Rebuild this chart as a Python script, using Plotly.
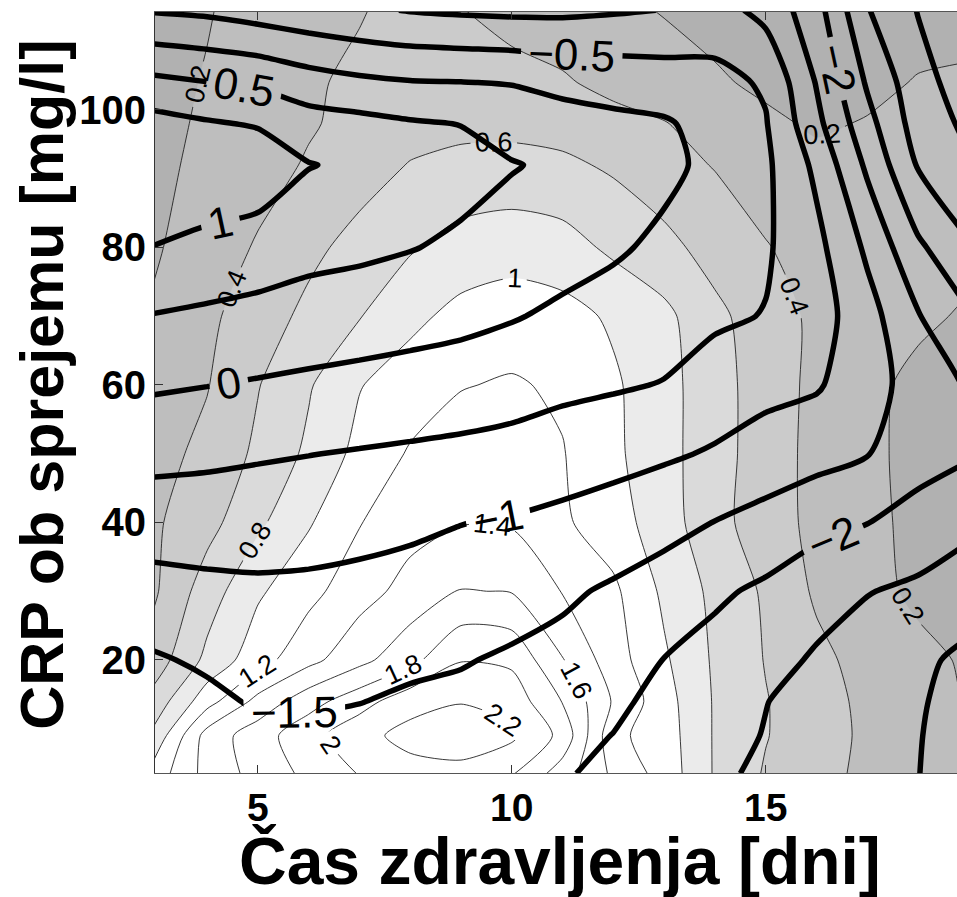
import plotly.graph_objects as go

# ---- grid (days of treatment x CRP on admission) ----
days = [2.95, 4, 5, 6, 7, 8, 9, 10, 11, 12, 13, 14, 15, 16, 17, 18, 19]
crp = [3.5, 9, 14, 20, 30, 40, 50, 60, 70, 80, 92, 98, 104, 114.5]

# ---- surface A (grey shading + thin contours), one list per CRP row ----
a_crp_3_5 = [1.08, 1.47, 1.67, 1.85, 2.01, 2.12, 2.14, 2.02, 1.70, 1.36, 1.12, 0.78, 0.58, 0.46, 0.36, 0.28, 0.25]
a_crp_9 = [0.85, 1.48, 1.71, 1.93, 2.13, 2.27, 2.31, 2.24, 1.94, 1.25, 1.10, 0.78, 0.61, 0.47, 0.37, 0.28, 0.24]
a_crp_14 = [0.67, 1.12, 1.46, 1.72, 1.92, 2.12, 2.19, 2.12, 1.79, 1.38, 1.08, 0.78, 0.61, 0.47, 0.36, 0.26, 0.19]
a_crp_20 = [0.49, 0.85, 1.12, 1.34, 1.54, 1.74, 1.99, 1.96, 1.61, 1.29, 1.03, 0.77, 0.59, 0.45, 0.33, 0.24, 0.18]
a_crp_30 = [0.37, 0.70, 0.97, 1.14, 1.32, 1.47, 1.61, 1.59, 1.39, 1.24, 0.96, 0.75, 0.57, 0.37, 0.25, 0.17, 0.14]
a_crp_40 = [0.37, 0.53, 0.76, 0.98, 1.19, 1.33, 1.39, 1.38, 1.23, 1.09, 0.89, 0.67, 0.49, 0.35, 0.24, 0.16, 0.13]
a_crp_50 = [0.33, 0.45, 0.64, 0.84, 1.06, 1.22, 1.30, 1.31, 1.21, 1.04, 0.87, 0.68, 0.50, 0.34, 0.23, 0.16, 0.12]
a_crp_60 = [0.27, 0.39, 0.59, 0.78, 0.99, 1.10, 1.19, 1.22, 1.17, 1.03, 0.87, 0.68, 0.50, 0.35, 0.24, 0.16, 0.12]
a_crp_70 = [0.22, 0.36, 0.50, 0.65, 0.79, 0.95, 1.06, 1.10, 1.07, 0.97, 0.85, 0.65, 0.49, 0.36, 0.28, 0.23, 0.18]
a_crp_80 = [0.18, 0.29, 0.42, 0.55, 0.67, 0.78, 0.88, 0.92, 0.88, 0.76, 0.66, 0.52, 0.41, 0.33, 0.28, 0.25, 0.24]
a_crp_92 = [0.17, 0.23, 0.32, 0.42, 0.51, 0.61, 0.65, 0.66, 0.64, 0.57, 0.47, 0.39, 0.31, 0.24, 0.22, 0.24, 0.25]
a_crp_98 = [0.16, 0.22, 0.29, 0.38, 0.46, 0.52, 0.55, 0.55, 0.52, 0.46, 0.41, 0.31, 0.23, 0.18, 0.21, 0.23, 0.24]
a_crp_104 = [0.15, 0.21, 0.28, 0.38, 0.43, 0.47, 0.48, 0.45, 0.42, 0.35, 0.28, 0.22, 0.17, 0.14, 0.16, 0.21, 0.22]
a_crp_114 = [0.13, 0.19, 0.26, 0.32, 0.39, 0.45, 0.405, 0.35, 0.30, 0.24, 0.19, 0.15, 0.12, 0.10, 0.10, 0.13, 0.15]

# ---- surface B (thick contours), one list per CRP row ----
b_crp_3_5 = [-1.80, -1.78, -1.72, -1.72, -1.75, -1.78, -1.82, -1.90, -1.97, -2.08, -2.24, -2.40, -2.60, -2.71, -2.85, -2.99, -3.28]
b_crp_9 = [-1.72, -1.70, -1.60, -1.60, -1.62, -1.66, -1.70, -1.80, -1.85, -2.01, -2.18, -2.35, -2.52, -2.67, -2.82, -2.98, -3.20]
b_crp_14 = [-1.65, -1.60, -1.45, -1.45, -1.49, -1.56, -1.60, -1.70, -1.75, -1.90, -2.14, -2.27, -2.49, -2.64, -2.80, -2.95, -3.20]
b_crp_20 = [-1.55, -1.43, -1.34, -1.32, -1.36, -1.42, -1.47, -1.56, -1.63, -1.77, -2.01, -2.17, -2.33, -2.56, -2.74, -2.90, -3.12]
b_crp_30 = [-1.17, -1.11, -1.08, -1.09, -1.13, -1.18, -1.23, -1.30, -1.43, -1.56, -1.70, -1.92, -2.09, -2.30, -2.48, -2.60, -2.75]
b_crp_40 = [-0.77, -0.77, -0.78, -0.81, -0.85, -0.91, -0.99, -1.04, -1.12, -1.23, -1.36, -1.51, -1.66, -1.86, -1.99, -2.17, -2.40]
b_crp_50 = [-0.36, -0.40, -0.45, -0.49, -0.53, -0.57, -0.61, -0.66, -0.75, -0.83, -0.93, -1.05, -1.21, -1.33, -1.48, -1.82, -1.95]
b_crp_60 = [0.06, 0.01, -0.04, -0.09, -0.13, -0.18, -0.23, -0.30, -0.39, -0.45, -0.52, -0.72, -0.86, -0.95, -1.29, -1.72, -2.05]
b_crp_70 = [0.48, 0.41, 0.35, 0.29, 0.23, 0.18, 0.12, 0.03, -0.08, -0.18, -0.30, -0.42, -0.52, -0.78, -1.31, -1.97, -2.45]
b_crp_80 = [0.99, 0.89, 0.78, 0.65, 0.60, 0.52, 0.42, 0.27, 0.17, 0.06, -0.09, -0.28, -0.44, -0.86, -1.59, -2.41, -2.95]
b_crp_92 = [1.40, 1.30, 1.30, 1.02, 0.91, 0.79, 0.66, 0.53, 0.40, 0.25, 0.10, -0.11, -0.41, -1.11, -2.09, -3.04, -3.45]
b_crp_98 = [1.18, 1.05, 0.96, 0.72, 0.65, 0.55, 0.49, 0.28, 0.18, 0.10, 0.05, -0.16, -0.47, -1.37, -2.33, -3.23, -3.60]
b_crp_104 = [0.62, 0.51, 0.42, 0.22, 0.10, 0.03, 0.01, -0.02, -0.12, -0.17, -0.24, -0.35, -0.56, -1.53, -2.56, -3.32, -3.75]
b_crp_114 = [-0.54, -0.60, -0.72, -0.83, -0.93, -1.02, -1.07, -1.10, -1.10, -1.05, -0.99, -0.80, -1.15, -1.81, -2.97, -3.52, -3.85]

a_rows = [a_crp_3_5, a_crp_9, a_crp_14, a_crp_20, a_crp_30, a_crp_40, a_crp_50,
          a_crp_60, a_crp_70, a_crp_80, a_crp_92, a_crp_98, a_crp_104, a_crp_114]
b_rows = [b_crp_3_5, b_crp_9, b_crp_14, b_crp_20, b_crp_30, b_crp_40, b_crp_50,
          b_crp_60, b_crp_70, b_crp_80, b_crp_92, b_crp_98, b_crp_104, b_crp_114]

x_ticks = [5, 10, 15]
y_ticks = [20, 40, 60, 80, 100]
x_title = "Čas zdravljenja [dni]"
y_title = "CRP ob sprejemu [mg/l]"

# grey bands: below 0.2, 0.2-0.4, 0.4-0.6, 0.6-0.8, 0.8-1.0, above 1.0
band_greys = ["#b1b1b1", "#bebebe", "#cbcbcb", "#dadada", "#ebebeb", "#ffffff"]
n = len(band_greys) - 1
scale = []
for j, c in enumerate(band_greys):
    lo = max(0.0, (j - 0.5) / n)
    hi = min(1.0, (j + 0.5) / n)
    scale.append([lo, c])
    scale.append([hi, c])

FONT = "Liberation Sans, Arial, sans-serif"

fig = go.Figure()
fig.add_trace(go.Contour(
    x=days, y=crp, z=a_rows,
    contours=dict(start=0.2, end=1.0, size=0.2, coloring="fill", showlines=False),
    colorscale=scale, showscale=False, line=dict(width=0, smoothing=0.7),
    hoverinfo="skip",
))
fig.add_trace(go.Contour(
    x=days, y=crp, z=a_rows,
    contours=dict(start=0.2, end=2.2, size=0.2, coloring="none", showlabels=True,
                  labelfont=dict(family=FONT, size=27, color="black"), labelformat=".1~f"),
    line=dict(color="#222222", width=0.9, smoothing=0.7),
    showscale=False, hoverinfo="skip",
))
fig.add_trace(go.Contour(
    x=days, y=crp, z=b_rows,
    contours=dict(start=-3.5, end=1.5, size=0.5, coloring="none", showlabels=True,
                  labelfont=dict(family=FONT, size=44, color="black"), labelformat=".1~f"),
    line=dict(color="black", width=5.5, smoothing=0.7),
    showscale=False, hoverinfo="skip",
))

fig.update_layout(
    width=957, height=897,
    margin=dict(l=155, r=0, t=12, b=124, autoexpand=False),
    paper_bgcolor="white", plot_bgcolor="white",
    showlegend=False,
    xaxis=dict(range=[2.975, 18.765], tickvals=x_ticks, ticks="inside", ticklen=8,
               tickcolor="#333", showline=True, linecolor="#555", linewidth=1,
               mirror="ticks", showgrid=False, zeroline=False, automargin=False,
               tickfont=dict(family=FONT, size=39, color="black", weight="bold")),
    yaxis=dict(range=[3.56, 114.25], tickvals=y_ticks, ticks="inside", ticklen=8,
               tickcolor="#333", showline=True, linecolor="#333", linewidth=1,
               showgrid=False, zeroline=False, automargin=False,
               tickfont=dict(family=FONT, size=40, color="black", weight="bold")),
    annotations=[
        dict(text=x_title, xref="paper", yref="paper", x=0.5044, y=-0.115,
             xanchor="center", yanchor="middle", showarrow=False,
             font=dict(family=FONT, size=66, color="black", weight="bold")),
        dict(text=y_title, xref="paper", yref="paper", x=-0.141, y=0.51,
             xanchor="center", yanchor="middle", showarrow=False, textangle=-90,
             font=dict(family=FONT, size=61, color="black", weight="bold")),
    ],
)

fig.write_html("out.html", config={"displayModeBar": False},
               post_script="document.body.style.margin='0px';document.body.style.padding='0px';")
